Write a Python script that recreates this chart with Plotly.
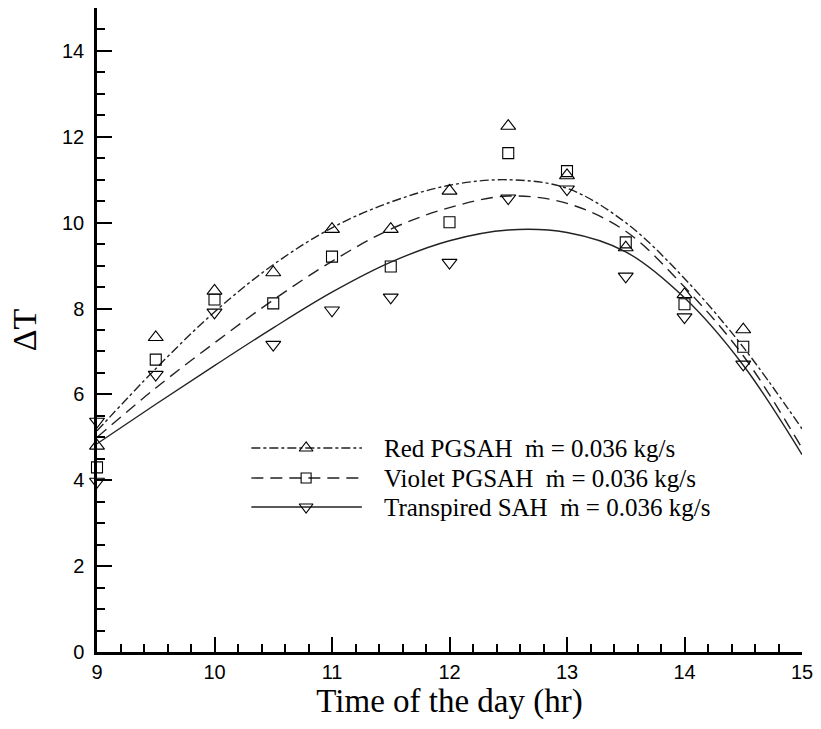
import plotly.graph_objects as go

# Measured temperature rise (ΔT) over the day for the three collectors
hours = [9.0, 9.5, 10.0, 10.5, 11.0, 11.5, 12.0, 12.5, 13.0, 13.5, 14.0, 14.5]
red_dt = [4.8, 7.33, 8.41, 8.84, 9.85, 9.85, 10.74, 12.25, 11.1, 9.42, 8.33, 7.51]
violet_dt = [4.3, 6.81, 8.21, 8.12, 9.21, 8.98, 10.01, 11.62, 11.2, 9.54, 8.1, 7.11]
transp_hours = [9.0, 9.0, 9.5, 10.0, 10.5, 11.0, 11.5, 12.0, 12.5, 13.0, 13.5, 14.0, 14.5]
transp_dt = [3.97, 5.37, 6.46, 7.91, 7.16, 7.96, 8.26, 9.07, 10.57, 10.78, 8.75, 7.8, 6.7]

# Fitted trend curves
fit_hours = [9.0, 9.5, 10.0, 10.5, 11.0, 11.5, 12.0, 12.5, 13.0, 13.5, 14.0, 14.5, 15.0]
red_fit = [5.15, 6.6, 7.92, 9.02, 9.88, 10.48, 10.87, 11.0, 10.8, 10.0, 8.7, 7.1, 5.2]
violet_fit = [5.0, 6.15, 7.2, 8.2, 9.1, 9.85, 10.35, 10.62, 10.45, 9.8, 8.5, 6.9, 4.75]
transp_fit = [4.85, 5.77, 6.67, 7.55, 8.38, 9.08, 9.58, 9.83, 9.77, 9.32, 8.25, 6.68, 4.6]

legend_labels = [
    "Red PGSAH  ṁ = 0.036 kg/s",
    "Violet PGSAH  ṁ = 0.036 kg/s",
    "Transpired SAH  ṁ = 0.036 kg/s",
]

x_ticks = [9, 10, 11, 12, 13, 14, 15]
y_ticks = [0, 2, 4, 6, 8, 10, 12, 14]

LINE = "#222222"
SERIF = "Liberation Serif, Times New Roman, serif"
series = [
    (red_fit, hours, red_dt, "dashdot", "triangle-up-open", 13),
    (violet_fit, hours, violet_dt, "12px,7px", "square-open", 11),
    (transp_fit, transp_hours, transp_dt, "solid", "triangle-down-open", 13),
]

fig = go.Figure()
for fit, xs, ys, dash, sym, msize in series:
    fig.add_trace(go.Scatter(
        x=fit_hours, y=fit, mode="lines",
        line=dict(color=LINE, width=1.4, dash=dash, shape="spline", smoothing=1.0),
        showlegend=False, hoverinfo="skip"))
    fig.add_trace(go.Scatter(
        x=xs, y=ys, mode="markers", cliponaxis=False,
        marker=dict(symbol=sym, size=msize, color="black", line=dict(width=1.1, color="black")),
        showlegend=False))

# Legend drawn on an overlay axis measured in plot pixels
leg_y = [448, 478, 507]
for (fit, xs, ys, dash, sym, msize), ly, label in zip(series, leg_y, legend_labels):
    fig.add_trace(go.Scatter(
        x=[252, 363], y=[ly, ly], mode="lines", xaxis="x2", yaxis="y2",
        line=dict(color=LINE, width=1.4, dash=dash), showlegend=False, hoverinfo="skip"))
    fig.add_trace(go.Scatter(
        x=[307], y=[ly], mode="markers", xaxis="x2", yaxis="y2",
        marker=dict(symbol=sym, size=msize - 1, color="black", line=dict(width=1.1, color="black")),
        showlegend=False, hoverinfo="skip"))
    fig.add_annotation(
        x=383, y=ly, xref="x2", yref="y2", text=label, showarrow=False,
        xanchor="left", yanchor="middle",
        font=dict(family=SERIF, size=25, color="black"))

axis_common = dict(
    showline=True, linecolor="black", linewidth=2.5, mirror=False,
    ticks="inside", ticklen=15, tickwidth=2, tickcolor="black",
    showgrid=False, zeroline=False,
    tickfont=dict(family="Liberation Sans, Arial, sans-serif", size=20, color="black"),
)

fig.update_layout(
    width=821, height=729,
    margin=dict(l=97, r=16, t=8, b=77),
    paper_bgcolor="white", plot_bgcolor="white",
    xaxis=dict(
        range=[9, 15], tickvals=x_ticks, ticktext=[str(v) for v in x_ticks],
        minor=dict(dtick=0.2, ticks="inside", ticklen=8, tickwidth=1.5, tickcolor="black"),
        title=dict(text="Time of the day (hr)", standoff=8,
                   font=dict(family=SERIF, size=33, color="black")),
        **axis_common),
    yaxis=dict(
        range=[0, 15], tickvals=y_ticks, ticktext=[str(v) for v in y_ticks],
        minor=dict(dtick=0.5, ticks="inside", ticklen=8, tickwidth=1.5, tickcolor="black"),
        ticklabelstandoff=6,
        title=dict(text="ΔT", standoff=16,
                   font=dict(family=SERIF, size=34, color="black")),
        **axis_common),
    xaxis2=dict(overlaying="x", range=[97, 805], visible=False, fixedrange=True),
    yaxis2=dict(overlaying="y", range=[652, 8], visible=False, fixedrange=True),
)

fig.write_html("out.html")
